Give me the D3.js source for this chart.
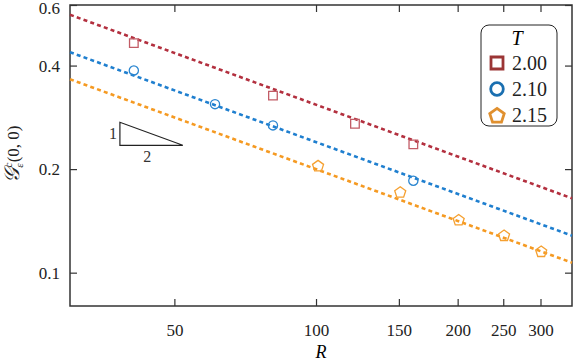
<!DOCTYPE html>
<html>
<head>
<meta charset="utf-8">
<script src="https://cdn.jsdelivr.net/npm/d3@7"></script>
<style>
  body { margin: 0; background: #fff; }
</style>
</head>
<body>
<div id="chart"></div>
<script>
// temperatures and their data points (R, G)
const temps = ["2.00", "2.10", "2.15"]
const radiiT200 = [41, 81, 121, 161]
const valuesT200 = [0.465, 0.327, 0.271, 0.236]
const radiiT210 = [41, 61, 81, 161]
const valuesT210 = [0.387, 0.309, 0.268, 0.185]
const radiiT215 = [101, 151, 201, 251, 301]
const valuesT215 = [0.204, 0.171, 0.142, 0.128, 0.115]
// dashed fit lines, value at R = 30 and R = 350
const fitEnds = [[0.562, 0.1645], [0.4375, 0.1281], [0.365, 0.1069]]
const fitR = [30, 350]
const xTicks = [50, 100, 150, 200, 250, 300]
const yTicks = [0.1, 0.2, 0.4, 0.6]

const width = 573, height = 363
const margin = { top: 5, right: 1, bottom: 57, left: 70 }
const serif = '"Liberation Serif", "Times New Roman", serif'

const lineColors = ["#b3303f", "#1f7fcf", "#f59a22"]
const markColors = ["#c25c66", "#2b86d0", "#f5a030"]
const legendColors = ["#9b3535", "#1a6fb0", "#e0902f"]
const shapes = ["square", "circle", "pentagon"]

const svg = d3.select("#chart").append("svg")
  .attr("width", width)
  .attr("height", height)

const x = d3.scaleLog().domain([30, 350]).range([margin.left, width - margin.right])
const y = d3.scaleLog().domain([0.08, 0.6]).range([height - margin.bottom, margin.top])

const fmtY = d => d3.format(".1f")(d)

// axes, ticks inward, mirrored
const axisColor = "#333"
const gx = svg.append("g").attr("transform", `translate(0,${y.range()[0]})`)
  .call(d3.axisBottom(x).tickValues(xTicks).tickFormat(d3.format("d")).tickSizeInner(-7).tickSizeOuter(0).tickPadding(18))
const gxTop = svg.append("g").attr("transform", `translate(0,${y.range()[1]})`)
  .call(d3.axisTop(x).tickValues(xTicks).tickFormat("").tickSizeInner(-7).tickSizeOuter(0))
const gy = svg.append("g").attr("transform", `translate(${x.range()[0]},0)`)
  .call(d3.axisLeft(y).tickValues(yTicks).tickFormat(fmtY).tickSizeInner(-7).tickSizeOuter(0).tickPadding(10))
const gyR = svg.append("g").attr("transform", `translate(${x.range()[1]},0)`)
  .call(d3.axisRight(y).tickValues(yTicks).tickFormat("").tickSizeInner(-7).tickSizeOuter(0))

;[gx, gxTop, gy, gyR].forEach(g => {
  g.attr("font-family", null)
  g.select(".domain").remove()
  g.selectAll("line").attr("stroke", axisColor).attr("stroke-width", 1.2)
  g.selectAll("text").attr("fill", "#222").attr("font-size", 17)
})
// top label sits a bit lower in the original
gy.selectAll("text").filter(d => d === 0.6).attr("dy", "0.5em")

svg.append("rect")
  .attr("x", x.range()[0]).attr("y", y.range()[1])
  .attr("width", x.range()[1] - x.range()[0])
  .attr("height", y.range()[0] - y.range()[1])
  .attr("fill", "none").attr("stroke", axisColor).attr("stroke-width", 1.5)

const plot = svg.append("g")

// fit lines
fitEnds.forEach((ends, i) => {
  plot.append("line")
    .attr("x1", x(fitR[0])).attr("y1", y(ends[0]))
    .attr("x2", x(fitR[1])).attr("y2", y(ends[1]))
    .attr("stroke", lineColors[i]).attr("stroke-width", 2.6)
    .attr("stroke-dasharray", "4,3.2")
})

function symbolPath(shape, size) {
  if (shape === "square") {
    const h = size
    return `M${-h},${-h}H${h}V${h}H${-h}Z`
  }
  if (shape === "circle") {
    return `M${size},0A${size},${size} 0 1,1 ${-size},0A${size},${size} 0 1,1 ${size},0Z`
  }
  const pts = d3.range(5).map(k => {
    const a = -Math.PI / 2 + k * 2 * Math.PI / 5
    return [size * Math.cos(a), size * Math.sin(a)]
  })
  return "M" + pts.map(p => p.join(",")).join("L") + "Z"
}

const series = [
  { r: radiiT200, v: valuesT200 },
  { r: radiiT210, v: valuesT210 },
  { r: radiiT215, v: valuesT215 }
]
const markSize = [4.3, 4.6, 5.8]

series.forEach((s, i) => {
  plot.append("g").selectAll("path")
    .data(s.r.map((r, j) => [r, s.v[j]]))
    .join("path")
    .attr("d", symbolPath(shapes[i], markSize[i]))
    .attr("transform", d => `translate(${x(d[0])},${y(d[1])})`)
    .attr("fill", "none")
    .attr("stroke", markColors[i])
    .attr("stroke-width", 1.3)
})

// slope triangle 1:2
const tri = { r0: 38.3, r1: 52.1, low: 0.2346, high: 0.2736 }
plot.append("path")
  .attr("d", `M${x(tri.r0)},${y(tri.high)}L${x(tri.r0)},${y(tri.low)}L${x(tri.r1)},${y(tri.low)}Z`)
  .attr("fill", "none").attr("stroke", "#222").attr("stroke-width", 1.2)
plot.append("text").attr("x", x(tri.r0) - 3).attr("y", (y(tri.low) + y(tri.high)) / 2 + 5)
  .attr("text-anchor", "end").attr("font-size", 16).attr("fill", "#333").text("1")
plot.append("text").attr("x", (x(tri.r0) + x(tri.r1)) / 2 - 4).attr("y", y(tri.low) + 17)
  .attr("text-anchor", "middle").attr("font-size", 16).attr("fill", "#333").text("2")

// legend
const lg = svg.append("g").attr("transform", "translate(481,25)")
lg.append("rect").attr("width", 76).attr("height", 101).attr("rx", 8)
  .attr("fill", "#fff").attr("stroke", "#222").attr("stroke-width", 1)
lg.append("text").attr("x", 36).attr("y", 20).attr("text-anchor", "middle")
  .attr("font-size", 20).attr("font-style", "italic").text("T")
temps.forEach((t, i) => {
  const cy = 38 + i * 26
  lg.append("path").attr("d", symbolPath(shapes[i], [6, 6.3, 7.6][i]))
    .attr("transform", `translate(16,${cy + (i === 2 ? 1 : 0)})`)
    .attr("fill", "none").attr("stroke", legendColors[i]).attr("stroke-width", 2.8)
  lg.append("text").attr("x", 31).attr("y", cy + 7).attr("font-size", 20)
    .attr("fill", "#222").text(t)
})

// axis labels
svg.append("text").attr("x", 321).attr("y", 358)
  .attr("text-anchor", "middle").attr("font-size", 18).attr("font-style", "italic").text("R")

const yl = svg.append("text")
  .attr("transform", `translate(19,${154}) rotate(-90)`)
  .attr("text-anchor", "middle").attr("font-size", 17).attr("fill", "#222")
yl.append("tspan").attr("font-style", "italic").attr("font-size", 21).text("𝒢")
yl.append("tspan").attr("font-size", 11).attr("font-style", "italic").attr("dy", -7).text("c")
yl.append("tspan").attr("font-size", 11).attr("font-style", "italic").attr("dx", -5).attr("dy", 11).text("ε")
yl.append("tspan").attr("dx", 1).attr("dy", -4).text("(0, 0)")

svg.selectAll("text").style("font-family", serif)
</script>
</body>
</html>
